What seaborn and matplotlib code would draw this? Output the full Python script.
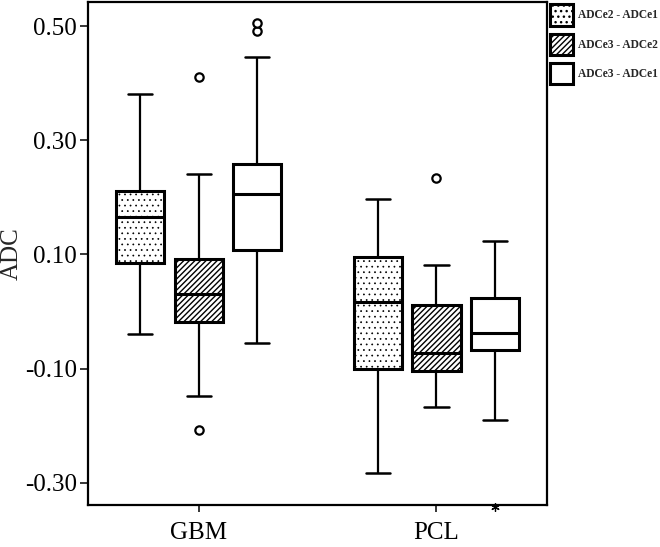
import matplotlib
matplotlib.use("Agg")
from matplotlib import pyplot as plt
from matplotlib.colors import to_rgba
from matplotlib.patches import Patch
import numpy as np
import pandas as pd
import seaborn as sns

groups = ['GBM', 'PCL']
series = ['ADCe2 - ADCe1', 'ADCe3 - ADCe2', 'ADCe3 - ADCe1']
hatches = ['...', '//////', '']
hatch_widths = [0.5, 1.0, 1.0]

# values, one entry per series
gbm_low = [-0.039, -0.148, -0.055]
gbm_q1 = [0.085, -0.019, 0.107]
gbm_med = [0.165, 0.031, 0.206]
gbm_q3 = [0.212, 0.092, 0.259]
gbm_high = [0.381, 0.241, 0.446]
gbm_outliers = [[], [0.411, -0.207], [0.492, 0.506]]

pcl_low = [-0.283, -0.167, -0.191]
pcl_q1 = [-0.100, -0.104, -0.068]
pcl_med = [0.017, -0.072, -0.038]
pcl_q3 = [0.095, 0.011, 0.023]
pcl_high = [0.197, 0.082, 0.123]
pcl_outliers = [[], [0.234], []]
pcl_extremes = [[], [], [-0.342]]

yticks = [-0.30, -0.10, 0.10, 0.30, 0.50]


def sample(lo, q1, med, q3, hi, outs):
    # sample whose quartiles and whisker ends equal the values above
    return [lo] + [q1] * 20 + [med] * 20 + [q3] * 20 + [hi] + list(outs)


rows = []
stats = {
    'GBM': (gbm_low, gbm_q1, gbm_med, gbm_q3, gbm_high, gbm_outliers),
    'PCL': (pcl_low, pcl_q1, pcl_med, pcl_q3, pcl_high, pcl_outliers),
}
for g in groups:
    lo, q1, med, q3, hi, outs = stats[g]
    for i, s in enumerate(series):
        for v in sample(lo[i], q1[i], med[i], q3[i], hi[i], outs[i]):
            rows.append({'group': g, 'series': s, 'ADC': v})
df = pd.DataFrame(rows)

sns.set_style('white')
plt.rcParams['font.family'] = ['Liberation Serif', 'DejaVu Serif']
plt.rcParams['hatch.linewidth'] = 1.0

fig = plt.figure(figsize=(6.6, 5.47), dpi=100)
ax = fig.add_axes([0.1338, 0.0759, 0.695, 0.921])

keycols = ['#202020', '#606060', '#a0a0a0']
sns.boxplot(data=df, x='group', y='ADC', hue='series', order=groups,
            hue_order=series, palette=keycols, saturation=1, width=0.74,
            gap=0.18, linecolor='black', linewidth=2.2, legend=False, ax=ax,
            whiskerprops=dict(linewidth=1.6), capprops=dict(linewidth=1.8),
            medianprops=dict(linewidth=2.2, color='black'),
            flierprops=dict(marker='o', markerfacecolor='white',
                            markeredgecolor='black', markersize=6,
                            markeredgewidth=1.6))


def style_patch(p, i):
    p.set_hatch(hatches[i])
    p.set_facecolor('white')
    if hasattr(p, 'set_hatch_linewidth'):
        p.set_hatch_linewidth(hatch_widths[i])


star_x = None
for patch in ax.patches:
    fc = patch.get_facecolor()
    for i, c in enumerate(keycols):
        if np.allclose(fc, to_rgba(c)):
            style_patch(patch, i)
            xs = patch.get_path().vertices[:, 0]
            if i == 2 and xs.mean() > 0.5:
                star_x = (xs.min() + xs.max()) / 2

# extreme value (SPSS star)
for v in pcl_extremes[2]:
    ax.plot(star_x, v, marker=(6, 2, 0), color='black', markersize=6,
            markeredgewidth=0.9, clip_on=False, zorder=5)

ax.set_xlim(-0.465, 1.465)
ax.set_ylim(-0.34, 0.543)
ax.set_yticks(yticks)
ax.set_yticklabels([f'{t:.2f}' for t in yticks])
ax.set_xlabel('')
ax.set_ylabel('ADC', fontsize=18, labelpad=2)
ax.tick_params(axis='y', labelsize=18, length=6, width=1.1, direction='out',
               pad=2, left=True, colors='black')
ax.tick_params(axis='x', labelsize=18, length=5, width=1.1, direction='out',
               pad=7, bottom=True, colors='black')
for sp in ax.spines.values():
    sp.set_visible(True)
    sp.set_color('black')
    sp.set_linewidth(1.6)

handles = []
for i in range(len(series)):
    h = Patch(edgecolor='black', linewidth=2.2)
    style_patch(h, i)
    handles.append(h)
fig.legend(handles, series, loc='upper left', bbox_to_anchor=(550 / 660, 0.992),
           frameon=False, prop={'size': 8.3, 'weight': 'bold'},
           handlelength=2.0, handleheight=2.45, labelspacing=0.7,
           handletextpad=0.45, borderpad=0, borderaxespad=0)

fig.savefig('out.png', dpi=100)
